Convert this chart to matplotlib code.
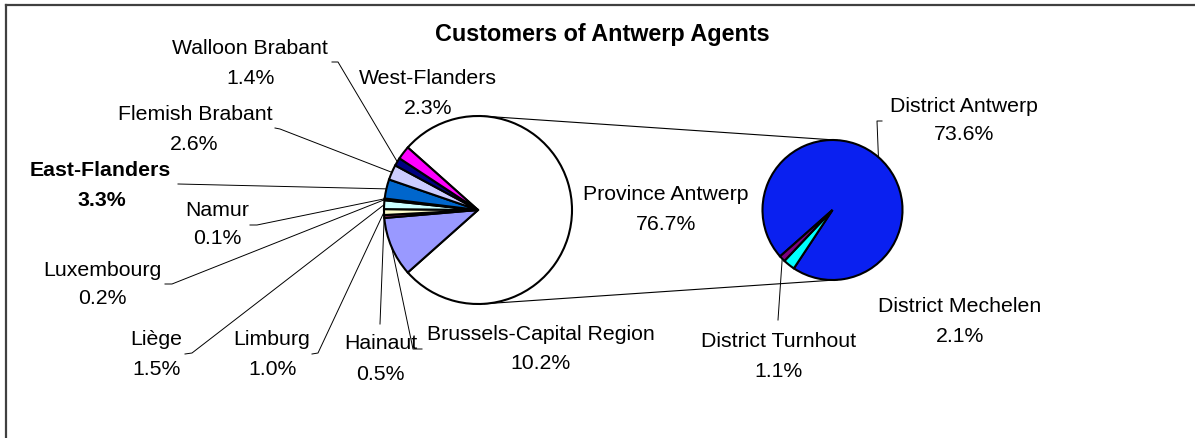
import numpy as np
import matplotlib
matplotlib.use("Agg")
import matplotlib.pyplot as plt

W, H = 1195, 439
plt.rcParams['font.family'] = ['Liberation Sans', 'DejaVu Sans']

title = "Customers of Antwerp Agents"

# First pie: customers by province (Province Antwerp is broken down in the second pie)
province_labels = ["Province Antwerp", "Brussels-Capital Region", "Hainaut", "Limburg",
                   "Liège", "Luxembourg", "Namur", "East-Flanders", "Flemish Brabant",
                   "Walloon Brabant", "West-Flanders"]
province_share = [76.7, 10.2, 0.5, 1.0, 1.5, 0.2, 0.1, 3.3, 2.6, 1.4, 2.3]
province_colors = ["#FFFFFF", "#9999FF", "#993366", "#FFFFCC", "#CCFFFF", "#660066",
                   "#FF8080", "#0066CC", "#CCCCFF", "#000080", "#FF00FF"]

# Second pie: Province Antwerp by district
district_labels = ["District Antwerp", "District Mechelen", "District Turnhout"]
district_share = [73.6, 2.1, 1.1]
district_colors = ["#0A20F0", "#00FFFF", "#800080"]


def flip(x, y):
    """Pixel position measured from the top edge -> axes coordinates."""
    return x, H - y


# label placement (pixels from top-left): name centre, value centre, leader path
label_layout = {
    "Walloon Brabant":        ((250, 46), (251, 76), [(332, 63), (338, 63)]),
    "Flemish Brabant":        ((195, 112), (194, 142), [(275, 129), (280, 130)]),
    "East-Flanders":          ((100, 169), (102, 199), [(178, 185)]),
    "Namur":                  ((217, 208), (217, 237), [(250, 226), (257, 226)]),
    "Luxembourg":             ((102, 268), (102, 297), [(165, 285), (172, 285)]),
    "Liège":                  ((156, 338), (157, 368), [(185, 355), (192, 354)]),
    "Limburg":                ((272, 338), (273, 368), [(312, 355), (318, 354)]),
    "Hainaut":                ((381, 342), (380, 373), [(380, 325)]),
    "Brussels-Capital Region": ((541, 332), (540, 362), [(422, 350), (413, 350)]),
    "West-Flanders":          ((428, 76), (428, 106), None),
    "Province Antwerp":       ((666, 193), (666, 223), None),
    "District Antwerp":       ((964, 104), (964, 133), [(882, 122), (877, 122)]),
    "District Mechelen":      ((960, 305), (960, 335), None),
    "District Turnhout":      ((779, 340), (779, 370), [(778, 321)]),
}
bold_labels = {"East-Flanders"}

fig = plt.figure(figsize=(W / 100, H / 100), dpi=100)
ax = fig.add_axes([0, 0, 1, 1])

c1, r1 = flip(478, 211), 94
c2, r2 = flip(832.5, 211), 70
edge = dict(edgecolor="black", linewidth=1.5)

start1 = 180.0 * province_share[0] / sum(province_share)
wedges1, _ = ax.pie(province_share, colors=province_colors, center=c1, radius=r1,
                    startangle=start1, counterclock=False, wedgeprops=edge)
wedges2, _ = ax.pie(district_share, colors=district_colors, center=c2, radius=r2,
                    startangle=221.5, counterclock=False, wedgeprops=edge)

ax.set_xlim(0, W)
ax.set_ylim(0, H)
ax.set_aspect("equal")
ax.axis("off")

# connector lines: outer common tangents of the two pies
d = np.array(c2) - np.array(c1)
dist = np.hypot(*d)
base = np.arctan2(d[1], d[0])
phi = np.arccos((r1 - r2) / dist)
for sgn in (1, -1):
    a = base + sgn * phi
    n = np.array([np.cos(a), np.sin(a)])
    p1 = np.array(c1) + r1 * n
    p2 = np.array(c2) + r2 * n
    ax.plot([p1[0], p2[0]], [p1[1], p2[1]], color="black", lw=0.8, zorder=0.5)


def edge_point(w):
    mid = np.deg2rad(0.5 * (w.theta1 + w.theta2))
    cx, cy = w.center
    return cx + w.r * np.cos(mid), cy + w.r * np.sin(mid)


all_labels = list(zip(province_labels, province_share, wedges1)) + \
             list(zip(district_labels, district_share, wedges2))

for name, share, w in all_labels:
    (nx, ny), (vx, vy), path = label_layout[name]
    weight = "bold" if name in bold_labels else "normal"
    tx, ty = flip(nx, ny + 7.5)
    ax.text(tx, ty, name, ha="center", va="baseline", fontsize=15.3,
            fontweight=weight, color="black")
    tx, ty = flip(vx, vy + 7.5)
    ax.text(tx, ty, f"{share:.1f}%", ha="center", va="baseline", fontsize=15.3,
            fontweight=weight, color="black")
    if path:
        pts = [flip(x, y) for x, y in path] + [edge_point(w)]
        xs, ys = zip(*pts)
        ax.plot(xs, ys, color="black", lw=0.7, zorder=3)

tx, ty = flip(602, 41)
ax.text(tx, ty, title, ha="center", va="baseline", fontsize=16.8, fontweight="bold")

# chart-area frame (top and left edges)
fx0, fy0 = flip(6, 6)
ax.plot([fx0, W], [fy0, fy0], color="#404040", lw=1.6, clip_on=False)
ax.plot([fx0, fx0], [fy0, 0], color="#404040", lw=1.6, clip_on=False)

fig.savefig("out.png", dpi=100)
